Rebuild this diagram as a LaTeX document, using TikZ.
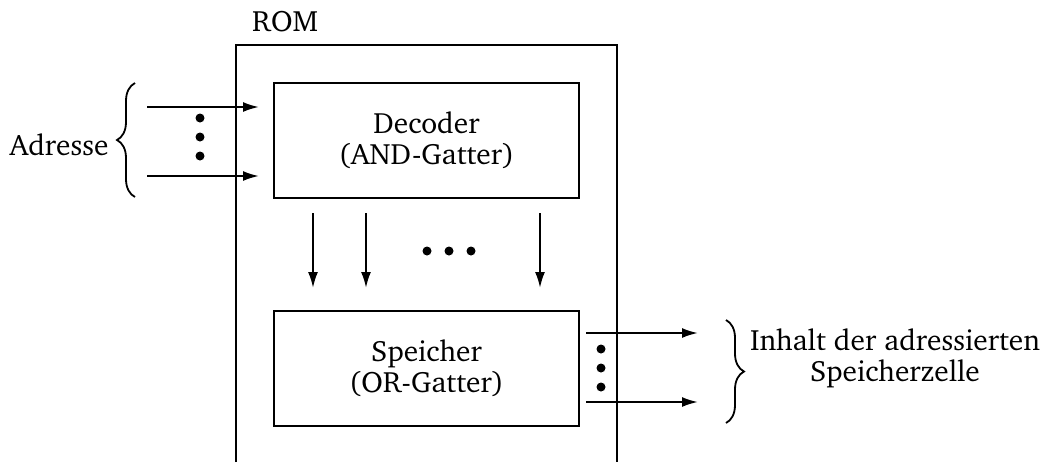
\documentclass[tikz,border=0pt]{standalone}
\usepackage[T1]{fontenc}
\usepackage{charter}
\usetikzlibrary{arrows.meta,positioning,decorations.pathreplacing}

\begin{document}
\begin{tikzpicture}[
  x=0.5pt, y=-0.5pt,
  every node/.style={font=\fontsize{14.7}{15.5}\selectfont, inner sep=0pt},
  unit/.style={
    draw, line width=1pt, align=center,
    minimum width=152.5pt, minimum height=57.5pt
  },
  sig/.style={-{Latex[length=8pt, width=5pt]}, line width=1pt},
  bracket/.style={decorate, decoration={brace, amplitude=9pt}, line width=0.9pt},
  dot/.style={circle, fill, minimum size=4.5pt}
]
  \useasboundingbox (0,0) rectangle (1045,462);

  % ROM housing (open at the bottom)
  \coordinate (romsw) at (236,462);
  \coordinate (romse) at (617,462);
  \draw[line width=1pt] (romsw) |- (617,45) -- (romse);
  \node (romlbl) at (285,22) {ROM};

  % Decoder and memory
  \node[unit] (dec) at (426.5,140.5) {Decoder\\(AND-Gatter)};
  \node[unit] (mem) at (426.5,368) {Speicher\\(OR-Gatter)};

  % address lines
  \coordinate (a1) at (147,107);
  \coordinate (a2) at (147,176);
  \draw[sig, shorten >=14pt/2] (a1) -- (a1 -| dec.west);
  \draw[sig, shorten >=14pt/2] (a2) -- (a2 -| dec.west);
  \foreach \yy in {118,137,156} \node[dot] at (200,\yy) {};
  \draw[bracket] (135,197) -- (135,83);
  \node[anchor=east] (adr) at (109,145) {Adresse};

  % word lines decoder -> memory
  \foreach \xx/\nm in {313/w1,366/w2,540/w3}{
    \coordinate (\nm) at (\xx,213);
    \draw[sig] (\nm) -- (\xx,288);
  }
  \foreach \xx in {427,449,471} \node[dot] at (\xx,251) {};

  % data lines
  \coordinate (d1) at (mem.east |- 0,333);
  \coordinate (d2) at (mem.east |- 0,402);
  \draw[sig, shorten <=6pt/2] (d1) -- (698,333);
  \draw[sig, shorten <=6pt/2] (d2) -- (698,402);
  \foreach \yy in {349,368,387} \node[dot] at (601,\yy) {};
  \draw[bracket] (726,320) -- (726,423);
  \node[align=center] (out) at (895,358) {Inhalt der adressierten\\Speicherzelle};
\end{tikzpicture}
\end{document}
